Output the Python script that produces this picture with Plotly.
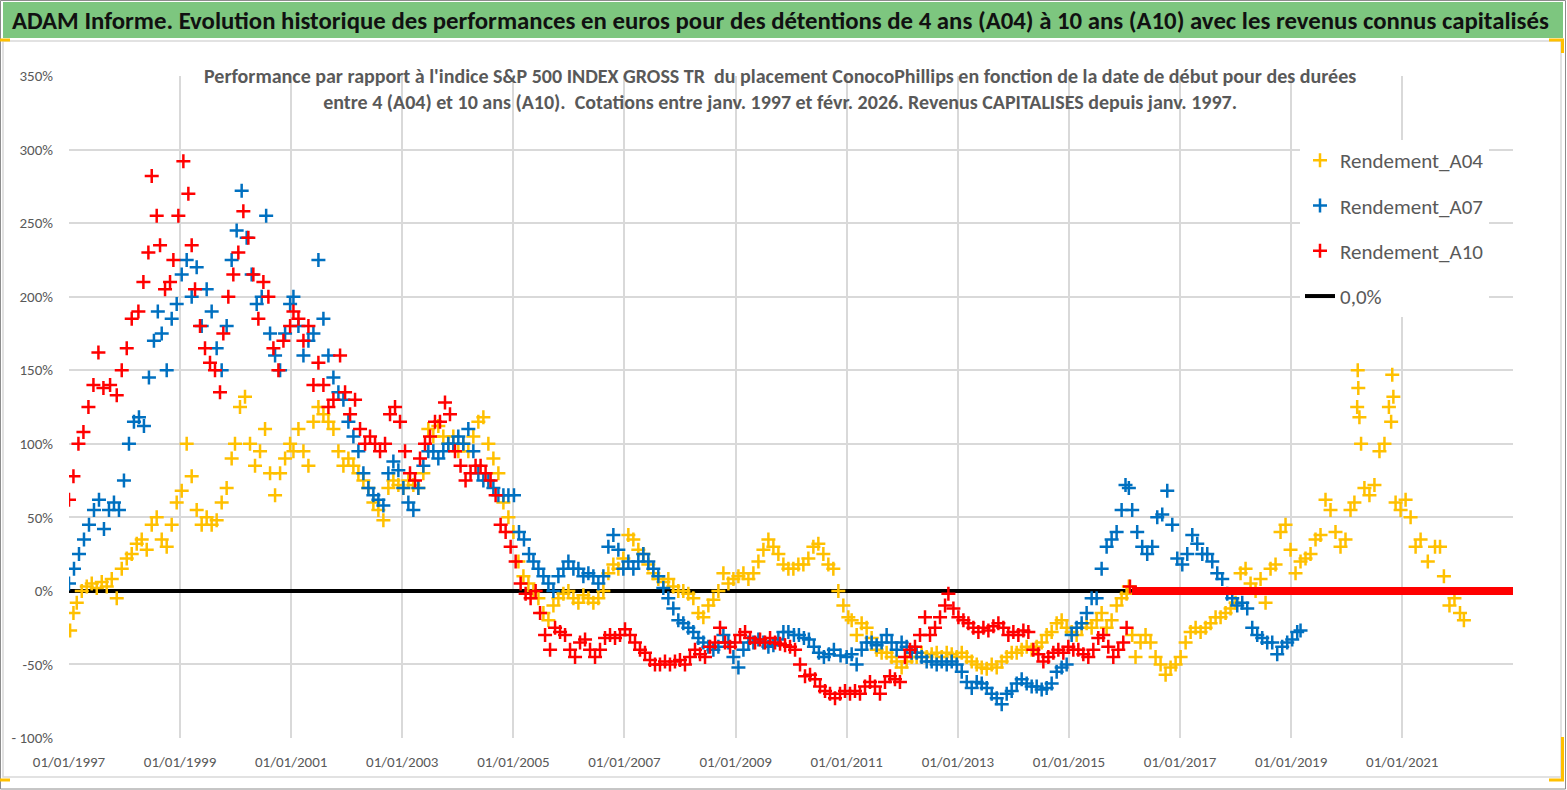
import pandas as pd
import plotly.graph_objects as go

# Values (decimal years, performance in %)
a04_years = [1997.02, 1997.08, 1997.14, 1997.23, 1997.32, 1997.41, 1997.50, 1997.59, 1997.68, 1997.77, 1997.86, 1997.95,
             1998.04, 1998.13, 1998.22, 1998.31, 1998.40, 1998.49, 1998.58, 1998.67, 1998.76, 1998.85, 1998.94,
             1999.03, 1999.12, 1999.21, 1999.30, 1999.39, 1999.48, 1999.57, 1999.66, 1999.75, 1999.84, 1999.93, 1999.99,
             2000.08, 2000.17, 2000.26, 2000.35, 2000.44, 2000.53, 2000.62, 2000.71, 2000.80, 2000.89, 2000.98,
             2001.04, 2001.13, 2001.22, 2001.31, 2001.40, 2001.49, 2001.58, 2001.67, 2001.76, 2001.85, 2001.94,
             2002.03, 2002.12, 2002.21, 2002.30, 2002.39, 2002.48, 2002.57, 2002.66, 2002.75, 2002.84, 2002.93,
             2003.02, 2003.11, 2003.20, 2003.29, 2003.38, 2003.47, 2003.56, 2003.65, 2003.74, 2003.83, 2003.92,
             2004.01, 2004.10, 2004.19, 2004.28, 2004.37, 2004.46, 2004.55, 2004.64, 2004.73, 2004.82, 2004.91,
             2005.00, 2005.09, 2005.18, 2005.27, 2005.36, 2005.45, 2005.54, 2005.63, 2005.72, 2005.81, 2005.90, 2005.99,
             2006.08, 2006.17, 2006.26, 2006.35, 2006.44, 2006.53, 2006.62, 2006.71, 2006.80, 2006.89, 2006.98,
             2007.07, 2007.16, 2007.25, 2007.34, 2007.43, 2007.52, 2007.61, 2007.70, 2007.79, 2007.88, 2007.97,
             2008.06, 2008.15, 2008.24, 2008.33, 2008.42, 2008.51, 2008.60, 2008.69, 2008.78, 2008.87, 2008.96,
             2009.05, 2009.14, 2009.23, 2009.32, 2009.41, 2009.50, 2009.59, 2009.68, 2009.77, 2009.86, 2009.95,
             2010.04, 2010.13, 2010.22, 2010.31, 2010.40, 2010.49, 2010.58, 2010.67, 2010.76, 2010.85, 2010.94,
             2011.03, 2011.09, 2011.18, 2011.27, 2011.36, 2011.45, 2011.54, 2011.63, 2011.72, 2011.81, 2011.90, 2011.99,
             2012.08, 2012.17, 2012.26, 2012.35, 2012.44, 2012.53, 2012.62, 2012.71, 2012.80, 2012.89, 2012.98,
             2013.07, 2013.16, 2013.25, 2013.34, 2013.43, 2013.52, 2013.61, 2013.70, 2013.79, 2013.88, 2013.97,
             2014.06, 2014.15, 2014.24, 2014.33, 2014.42, 2014.51, 2014.60, 2014.69, 2014.78, 2014.87, 2014.96,
             2015.05, 2015.14, 2015.23, 2015.32, 2015.41, 2015.50, 2015.59, 2015.68, 2015.77, 2015.86, 2015.95,
             2016.04, 2016.08, 2016.14, 2016.20, 2016.29, 2016.38, 2016.47, 2016.56, 2016.65, 2016.74, 2016.83, 2016.92,
             2017.01, 2017.10, 2017.19, 2017.28, 2017.37, 2017.46, 2017.55, 2017.64, 2017.73, 2017.82, 2017.91,
             2018.00, 2018.09, 2018.18, 2018.27, 2018.36, 2018.45, 2018.54, 2018.63, 2018.72, 2018.81, 2018.90, 2018.99,
             2019.08, 2019.17, 2019.26, 2019.35, 2019.44, 2019.53, 2019.62, 2019.71, 2019.80, 2019.89, 2019.98,
             2020.07, 2020.14, 2020.19, 2020.20, 2020.21, 2020.23, 2020.26, 2020.32, 2020.41, 2020.50, 2020.59, 2020.68,
             2020.76, 2020.80, 2020.82, 2020.84, 2020.88, 2020.97,
             2021.06, 2021.15, 2021.24, 2021.33, 2021.46, 2021.59, 2021.68, 2021.75, 2021.85, 2021.94, 2022.04, 2022.11]
a04_values = [-27, -15, -8, 0, 3, 5, 2, 6, 3, 8, -5, 15,
              22, 25, 32, 35, 28, 45, 50, 35, 30, 45, 60,
              68, 100, 78, 55, 45, 50, 45, 48, 60, 70, 90, 100,
              125, 132, 100, 85, 95, 110, 80, 65, 80, 90, 100,
              95, 110, 95, 85, 115, 125, 120, 115, 110, 95, 85,
              90, 85, 80, 75, 70, 60, 55, 48, 70, 75, 72,
              70, 75, 72, 70, 80, 110, 105, 112, 105, 100, 105,
              95, 100, 95, 105, 115, 118, 100, 90, 80, 60, 50,
              40, 20, 10, 5, 0, -5, -15, -20, -10, -5, -2, 0,
              -5, -8, -3, -5, -8, -5, 0, 12, 18, 15, 22,
              38, 35, 28, 25, 18, 12, 8, 6, 8, 3, 0,
              0, -2, -5, -15, -18, -10, -6, 0, 12, 5, 8,
              10, 12, 8, 12, 20, 28, 35, 30, 25, 18, 15,
              15, 18, 18, 22, 30, 32, 25, 18, 15, 0, -10,
              -18, -20, -30, -22, -25, -32, -40, -42, -42, -45, -48, -52,
              -48, -45, -45, -42, -45, -43, -42, -45, -42, -43, -45,
              -42, -45, -48, -50, -52, -53, -50, -52, -48, -45, -42,
              -42, -40, -38, -40, -38, -35, -30, -28, -22, -20, -25,
              -28, -30, -25, -22, -25, -20, -15, -25, -20, -10, -5,
              -2, 3, -30, -45, -35, -30, -35, -45, -50, -57, -52, -50,
              -45, -35, -28, -25, -28, -25, -22, -18, -18, -15, -12,
              -8, 12, 15, 5, 0, 8, -8, 15, 18, 40, 45, 28,
              12, 20, 22, 25, 35, 38, 62, 55, 40, 30, 35,
              55, 60, 125, 150, 138, 118, 100, 70, 65, 72, 95, 100,
              125, 115, 147, 132, 60, 55,
              62, 50, 30, 35, 20, 30, 30, 10, -10, -5, -15, -20]

a07_years = [1997.00, 1997.09, 1997.18, 1997.27, 1997.36, 1997.45, 1997.54, 1997.63, 1997.72, 1997.81, 1997.90, 1997.99,
             1998.08, 1998.17, 1998.26, 1998.35, 1998.44, 1998.53, 1998.60, 1998.67, 1998.76, 1998.85, 1998.94,
             1999.03, 1999.12, 1999.21, 1999.30, 1999.39, 1999.48, 1999.57, 1999.66, 1999.75, 1999.84, 1999.93,
             2000.02, 2000.11, 2000.20, 2000.29, 2000.38, 2000.47, 2000.55, 2000.62, 2000.71, 2000.80, 2000.89, 2000.98,
             2001.04, 2001.13, 2001.22, 2001.31, 2001.40, 2001.49, 2001.58, 2001.67, 2001.76, 2001.85, 2001.94,
             2002.03, 2002.12, 2002.21, 2002.30, 2002.39, 2002.48, 2002.57, 2002.66, 2002.75, 2002.84, 2002.93,
             2003.02, 2003.11, 2003.20, 2003.29, 2003.38, 2003.47, 2003.56, 2003.65, 2003.74, 2003.83, 2003.92,
             2004.01, 2004.10, 2004.19, 2004.28, 2004.37, 2004.46, 2004.55, 2004.64, 2004.73, 2004.82, 2004.91,
             2005.01, 2005.10, 2005.19, 2005.28, 2005.36, 2005.45, 2005.54, 2005.63, 2005.72, 2005.81, 2005.90, 2005.99,
             2006.08, 2006.17, 2006.26, 2006.35, 2006.44, 2006.53, 2006.62, 2006.71, 2006.80, 2006.89, 2006.98,
             2007.07, 2007.16, 2007.25, 2007.34, 2007.43, 2007.52, 2007.61, 2007.70, 2007.79, 2007.88, 2007.97,
             2008.06, 2008.15, 2008.24, 2008.33, 2008.42, 2008.51, 2008.60, 2008.69, 2008.78, 2008.87, 2008.96,
             2009.05, 2009.14, 2009.23, 2009.32, 2009.41, 2009.50, 2009.59, 2009.68, 2009.77, 2009.86, 2009.95,
             2010.05, 2010.14, 2010.23, 2010.32, 2010.41, 2010.50, 2010.59, 2010.68, 2010.77, 2010.89,
             2011.00, 2011.09, 2011.18, 2011.27, 2011.36, 2011.45, 2011.54, 2011.63, 2011.72, 2011.81, 2011.90, 2011.99,
             2012.08, 2012.17, 2012.26, 2012.35, 2012.44, 2012.53, 2012.62, 2012.71, 2012.80, 2012.89, 2012.98,
             2013.07, 2013.16, 2013.25, 2013.34, 2013.43, 2013.52, 2013.61, 2013.70, 2013.79, 2013.88, 2013.97,
             2014.06, 2014.15, 2014.24, 2014.33, 2014.42, 2014.51, 2014.60, 2014.69, 2014.78, 2014.87, 2014.96,
             2015.05, 2015.14, 2015.23, 2015.32, 2015.41, 2015.50, 2015.59, 2015.68, 2015.77, 2015.86, 2015.95,
             2016.02, 2016.08, 2016.14, 2016.23, 2016.32, 2016.41, 2016.50, 2016.59, 2016.68, 2016.77, 2016.86, 2016.95,
             2017.04, 2017.13, 2017.22, 2017.31, 2017.40, 2017.49, 2017.58, 2017.67, 2017.76, 2017.85, 2017.94,
             2018.03, 2018.12, 2018.21, 2018.30, 2018.39, 2018.48, 2018.57, 2018.66, 2018.75, 2018.84, 2018.93,
             2019.02, 2019.11, 2019.17]
a07_values = [5, 15, 25, 35, 45, 55, 62, 42, 55, 60, 55, 75,
              100, 115, 118, 112, 145, 170, 190, 175, 150, 185, 195,
              215, 225, 200, 220, 180, 205, 190, 165, 150, 180, 225,
              245, 272, 240, 215, 195, 200, 255, 175, 160, 150, 175, 195,
              200, 180, 160, 170, 175, 225, 185, 160, 145, 135, 130,
              115, 105, 95, 80, 70, 65, 62, 58, 80, 88, 82,
              70, 60, 55, 70, 85, 95, 95, 90, 95, 100, 100,
              105, 100, 110, 95, 80, 75, 75, 70, 65, 65, 65,
              65, 40, 35, 25, 20, 15, 10, 5, 0, 10, 15, 20,
              15, 15, 10, 12, 10, 5, 10, 30, 38, 28, 15,
              20, 15, 20, 25, 20, 15, 10, 2, -5, -12, -20,
              -22, -25, -28, -32, -35, -38, -40, -38, -30, -35, -45,
              -52, -40, -35, -35, -33, -35, -38, -37, -33, -28, -28,
              -30, -30, -32, -33, -38, -42, -45, -43, -40, -44,
              -45, -43, -50, -40, -35, -35, -37, -35, -30, -35, -40, -35,
              -38, -42, -42, -45, -48, -48, -50, -48, -50, -48, -50,
              -55, -62, -66, -62, -63, -66, -70, -73, -77, -70, -68,
              -63, -60, -63, -65, -65, -67, -66, -63, -55, -52, -50,
              -30, -25, -22, -15, -5, -5, 15, 30, 35, 40, 55,
              72, 70, 55, 40, 30, 25, 30, 50, 52, 68, 45, 22,
              18, 25, 38, 32, 25, 25, 20, 12, 8, -2, -5,
              -10, -8, -12, -25, -30, -32, -35, -35, -43, -38, -35,
              -33, -28, -27]

a10_years = [1997.00, 1997.08, 1997.17, 1997.26, 1997.35, 1997.44, 1997.53, 1997.62, 1997.74, 1997.86, 1997.95,
             1998.04, 1998.13, 1998.25, 1998.34, 1998.43, 1998.49, 1998.58, 1998.64, 1998.73, 1998.82, 1998.88, 1998.97,
             1999.06, 1999.15, 1999.21, 1999.27, 1999.36, 1999.45, 1999.54, 1999.63, 1999.72, 1999.78, 1999.87, 1999.96,
             2000.05, 2000.14, 2000.23, 2000.32, 2000.41, 2000.50, 2000.59, 2000.68, 2000.77, 2000.86, 2000.98,
             2001.04, 2001.13, 2001.22, 2001.31, 2001.40, 2001.49, 2001.58, 2001.67, 2001.76, 2001.88, 2001.97,
             2002.06, 2002.15, 2002.24, 2002.33, 2002.42, 2002.51, 2002.60, 2002.69, 2002.78, 2002.87, 2002.96,
             2003.05, 2003.14, 2003.23, 2003.32, 2003.41, 2003.50, 2003.59, 2003.68, 2003.77, 2003.86, 2003.95,
             2004.05, 2004.14, 2004.23, 2004.32, 2004.41, 2004.50, 2004.59, 2004.68, 2004.77, 2004.86, 2004.95,
             2005.04, 2005.13, 2005.22, 2005.31, 2005.40, 2005.48, 2005.57, 2005.66, 2005.75, 2005.84, 2005.93,
             2006.02, 2006.11, 2006.20, 2006.29, 2006.38, 2006.47, 2006.56, 2006.65, 2006.74, 2006.83, 2006.92,
             2007.01, 2007.10, 2007.19, 2007.28, 2007.37, 2007.46, 2007.55, 2007.64, 2007.73, 2007.82, 2007.91,
             2008.00, 2008.09, 2008.18, 2008.27, 2008.36, 2008.45, 2008.54, 2008.63, 2008.72, 2008.81, 2008.90, 2008.99,
             2009.08, 2009.17, 2009.26, 2009.35, 2009.44, 2009.53, 2009.62, 2009.71, 2009.80, 2009.89, 2009.98,
             2010.07, 2010.16, 2010.25, 2010.34, 2010.43, 2010.52, 2010.61, 2010.70, 2010.79, 2010.88, 2010.97,
             2011.06, 2011.15, 2011.24, 2011.33, 2011.42, 2011.51, 2011.60, 2011.69, 2011.78, 2011.87, 2011.96,
             2012.05, 2012.14, 2012.23, 2012.32, 2012.41, 2012.50, 2012.59, 2012.68, 2012.77, 2012.83, 2012.92,
             2013.01, 2013.10, 2013.19, 2013.28, 2013.37, 2013.46, 2013.55, 2013.64, 2013.73, 2013.82, 2013.91,
             2014.00, 2014.09, 2014.18, 2014.27, 2014.36, 2014.45, 2014.54, 2014.63, 2014.72, 2014.81, 2014.90, 2014.99,
             2015.08, 2015.17, 2015.26, 2015.35, 2015.44, 2015.53, 2015.62, 2015.71, 2015.80, 2015.89, 2015.98,
             2016.04, 2016.10]
a10_values = [62, 78, 100, 108, 125, 140, 162, 138, 140, 133, 150,
              165, 185, 190, 210, 230, 282, 255, 235, 205, 210, 225, 255,
              292, 270, 235, 205, 180, 165, 155, 150, 135, 175, 200, 215,
              230, 258, 240, 215, 185, 210, 200, 165, 150, 170, 180,
              190, 185, 170, 180, 140, 155, 140, 125, 130, 160, 135,
              120, 130, 110, 100, 105, 100, 95, 100, 120, 125, 115,
              95, 80, 75, 90, 100, 105, 115, 115, 128, 120, 95,
              85, 75, 80, 85, 85, 80, 75, 65, 45, 40, 30,
              20, 5, -2, -5, 0, -15, -30, -40, -25, -28, -30,
              -40, -45, -35, -33, -40, -45, -40, -32, -30, -32, -30,
              -26, -30, -35, -40, -42, -47, -50, -50, -48, -50, -48,
              -47, -50, -45, -40, -43, -45, -38, -35, -25, -35, -38, -35,
              -30, -28, -32, -35, -33, -35, -32, -35, -36, -37, -38,
              -40, -50, -58, -57, -60, -65, -68, -70, -73, -70, -68,
              -70, -68, -70, -65, -62, -65, -70, -62, -58, -60, -62,
              -45, -40, -38, -30, -18, -30, -25, -18, -10, -2, -12,
              -18, -20, -22, -25, -28, -25, -27, -24, -22, -25, -30,
              -28, -30, -27, -28, -40, -43, -48, -45, -42, -40, -42, -38,
              -40, -40, -43, -45, -40, -32, -30, -38, -45, -40, -35,
              -25, 3]

# After early 2016 the 10-year series sits flat at 0 %
a10_flat_dates = ["2016-02-20", "2022-12-30"]
a10_flat_values = [0, 0]

zero_dates = ["1997-01-01", "2016-02-20"]
zero_values = [0, 0]

y_tick_values = [-100, -50, 0, 50, 100, 150, 200, 250, 300, 350]
y_tick_labels = ["- 100%", "-50%", "0%", "50%", "100%", "150%", "200%", "250%", "300%", "350%"]

title_text = ("ADAM Informe. Evolution historique des performances en euros pour des détentions "
              "de 4 ans (A04) à 10 ans (A10) avec les revenus connus capitalisés")
subtitle_text = ("Performance par rapport à l'indice S&P 500 INDEX GROSS TR  du placement ConocoPhillips en "
                 "fonction de la date de début pour des durées<br>entre 4 (A04) et 10 ans (A10).  Cotations entre "
                 "janv. 1997 et févr. 2026. Revenus CAPITALISES depuis janv. 1997.")

FONT = "Carlito, Lato, sans-serif"
W, H = 1567, 790
L, R, T, B = 69, 54, 76, 52


def to_dates(years):
    out = []
    for y in years:
        yr = int(y)
        start = pd.Timestamp(year=yr, month=1, day=1)
        end = pd.Timestamp(year=yr + 1, month=1, day=1)
        out.append(start + (end - start) * (y - yr))
    return out


def px(x):
    return (x - L) / (W - L - R)


def py(y):
    return (H - B - y) / (H - T - B)


fig = go.Figure()

# zero reference line (drawn first so markers sit on top)
fig.add_trace(go.Scatter(x=zero_dates, y=zero_values, mode='lines', name='0,0%',
                         line=dict(color='black', width=4), legendrank=4, legendgroup='z'))

series = [
    ('Rendement_A04', a04_years, a04_values, '#FFC000', 1),
    ('Rendement_A07', a07_years, a07_values, '#0070C0', 2),
    ('Rendement_A10', a10_years, a10_values, '#FF0000', 3),
]
for name, yrs, vals, color, rank in series:
    fig.add_trace(go.Scatter(
        x=to_dates(yrs), y=vals, mode='markers', name=name,
        legendrank=rank, legendgroup=name,
        marker=dict(symbol='cross-thin', size=10, color=color,
                    line=dict(color=color, width=2.5))
    ))

fig.add_trace(go.Scatter(x=a10_flat_dates, y=a10_flat_values, mode='lines', showlegend=False,
                         legendgroup='Rendement_A10', line=dict(color='#FF0000', width=8)))

shapes = [
    # outer frame
    dict(type='rect', xref='paper', yref='paper', x0=px(0.5), x1=px(1565.5), y0=py(0.5), y1=py(789),
         line=dict(color='#8c8c8c', width=1), layer='below'),
    # title banner
    dict(type='rect', xref='paper', yref='paper', x0=px(3), x1=px(1563), y0=py(2), y1=py(38),
         fillcolor='#7DC67F', line=dict(width=0), layer='below'),
    # chart area border
    dict(type='rect', xref='paper', yref='paper', x0=px(3), x1=px(1561), y0=py(41), y1=py(777),
         line=dict(color='#d9d9d9', width=1.5), layer='below'),
    # selection handles
    dict(type='path', xref='paper', yref='paper',
         path=f"M {px(1549)},{py(40)} L {px(1562.5)},{py(40)} L {px(1562.5)},{py(53)}",
         line=dict(color='#FFC000', width=3)),
    dict(type='path', xref='paper', yref='paper',
         path=f"M {px(1562.5)},{py(737)} L {px(1562.5)},{py(780)} L {px(1549)},{py(780)}",
         line=dict(color='#FFC000', width=3)),
    dict(type='line', xref='paper', yref='paper', x0=px(0), x1=px(10), y0=py(40), y1=py(40),
         line=dict(color='#FFC000', width=3)),
    dict(type='line', xref='paper', yref='paper', x0=px(0), x1=px(10), y0=py(780), y1=py(780),
         line=dict(color='#FFC000', width=3)),
]

annotations = [
    dict(text=f"<b>{title_text}</b>", xref='paper', yref='paper', x=px(780), y=py(20),
         xanchor='center', yanchor='middle', showarrow=False,
         font=dict(family=FONT, size=24.8, color='#111111')),
    dict(text=f"<b>{subtitle_text}</b>", xref='paper', yref='paper', x=px(780), y=py(89),
         xanchor='center', yanchor='middle', showarrow=False, align='center',
         font=dict(family=FONT, size=20, color='#595959')),
]

fig.update_layout(
    width=W, height=H,
    margin=dict(l=L, r=R, t=T, b=B),
    paper_bgcolor='white', plot_bgcolor='white',
    font=dict(family=FONT, color='#595959'),
    showlegend=True,
    legend=dict(x=px(1300), y=py(140), xanchor='left', yanchor='top',
                bgcolor='white', borderwidth=0, traceorder='grouped', tracegroupgap=15,
                font=dict(family=FONT, size=21, color='#595959')),
    xaxis=dict(type='date', range=['1997-01-01', '2022-12-30'],
               tick0='1997-01-01', dtick='M24', tickformat='%d/%m/%Y',
               showgrid=True, gridcolor='#d9d9d9', gridwidth=1.5,
               showline=False, zeroline=False,
               ticks='outside', ticklen=10, tickcolor='rgba(0,0,0,0)',
               tickfont=dict(family=FONT, size=15, color='#595959')),
    yaxis=dict(range=[-100, 350], tickvals=y_tick_values, ticktext=y_tick_labels,
               showgrid=True, gridcolor='#d9d9d9', gridwidth=1.5,
               showline=False, zeroline=False,
               ticks='outside', ticklen=12, tickcolor='rgba(0,0,0,0)',
               tickfont=dict(family=FONT, size=15, color='#595959')),
    shapes=shapes,
    annotations=annotations,
)

fig.write_html("out.html", config={'displayModeBar': False},
               post_script="document.body.style.margin='0px';")
